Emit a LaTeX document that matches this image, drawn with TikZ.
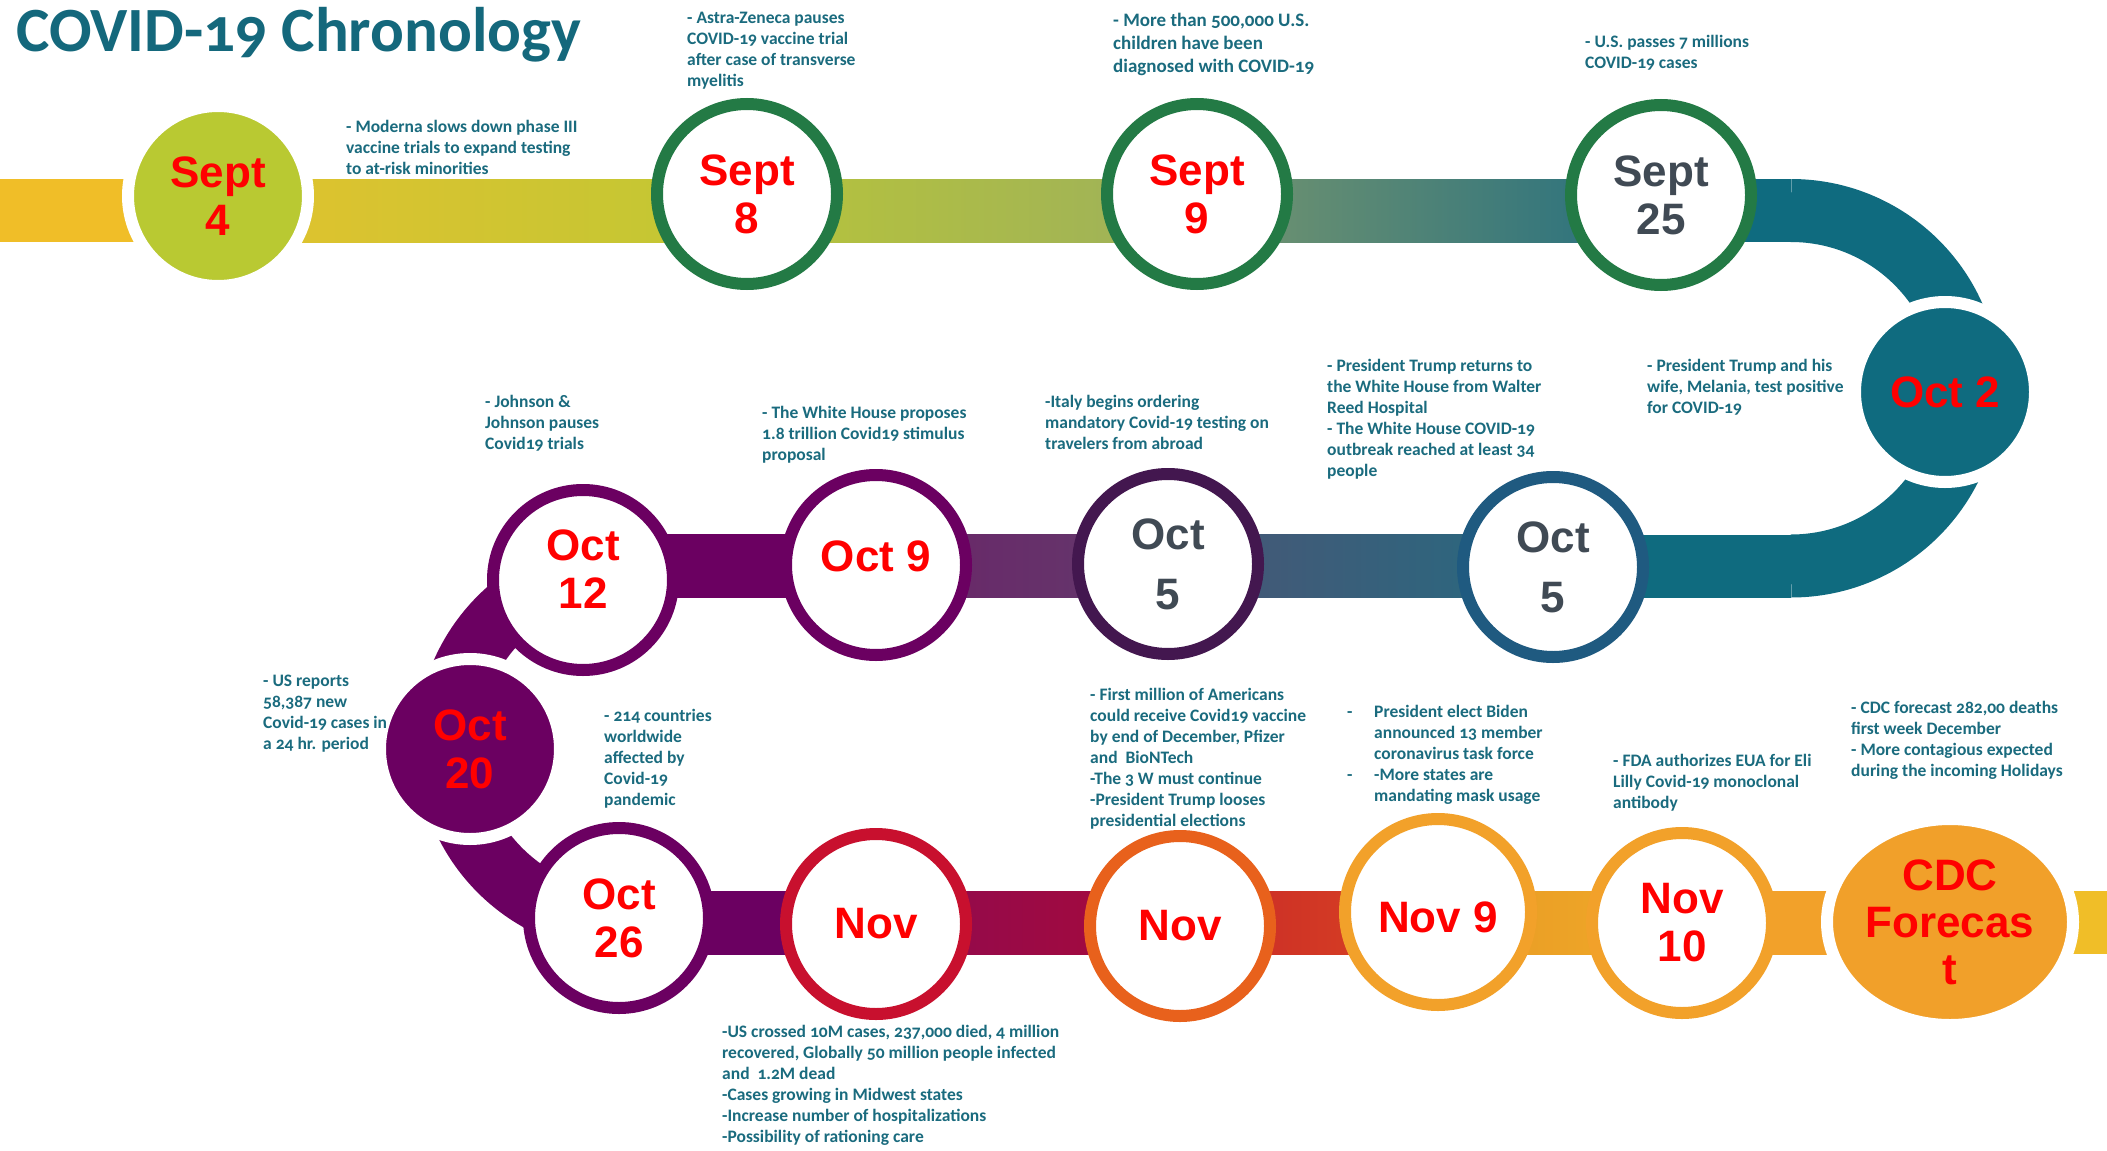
\documentclass[tikz,border=0pt]{standalone}
\usepackage{fontspec}
\setmainfont{Carlito}[Numbers=OldStyle]
\setsansfont{Liberation Sans}
\usetikzlibrary{shapes.geometric}

\definecolor{txt}{HTML}{1A6B7E}
\definecolor{ttl}{HTML}{14687C}
\definecolor{datered}{HTML}{FF0000}
\definecolor{dategray}{HTML}{404A54}
\definecolor{sepfill}{HTML}{B9C932}
\definecolor{ringgreen}{HTML}{237A45}
\definecolor{tealband}{HTML}{0F6B7F}
\definecolor{ringblue}{HTML}{1F5A80}
\definecolor{darkplum}{HTML}{43174F}
\definecolor{plum}{HTML}{6B0061}
\definecolor{crimson}{HTML}{C8102E}
\definecolor{rust}{HTML}{E8611C}
\definecolor{amber}{HTML}{F2A12A}
\definecolor{cdcfill}{HTML}{F1A02A}
\definecolor{yel}{HTML}{F0BE28}
\definecolor{c1}{HTML}{E2C22E}
\definecolor{c2}{HTML}{C0C734}
\definecolor{c3}{HTML}{B8C43A}
\definecolor{c4}{HTML}{9CB05C}
\definecolor{c5}{HTML}{76966E}
\definecolor{c6}{HTML}{246E80}
\definecolor{c7}{HTML}{4A5575}
\definecolor{c8}{HTML}{266A80}
\definecolor{c9}{HTML}{6A2468}
\definecolor{c10}{HTML}{633A6C}
\definecolor{c11}{HTML}{8E0A50}
\definecolor{c12}{HTML}{A80A3A}
\definecolor{c13}{HTML}{C82828}
\definecolor{c14}{HTML}{DA4522}
\definecolor{c15}{HTML}{E89A25}
\definecolor{c16}{HTML}{F0AA28}

\pgfdeclarelayer{bg}
\pgfsetlayers{bg,main}

\tikzset{
  dateface/.style={inner sep=0pt, align=center, text=datered,
    font=\sffamily\bfseries\fontsize{44}{48}\selectfont},
  ringnode/.style={dateface, circle, minimum size=180pt, line width=12pt, draw=#1, fill=white},
  dotnode/.style={dateface, circle, minimum size=180pt, line width=12pt, draw=white, fill=#1},
  notetext/.style={anchor=north west, inner sep=0pt, align=left, text=txt,
    font=\bfseries\fontsize{17.5}{21}\selectfont},
  bandline/.style={line width=63pt, #1}
}

\begin{document}
\begin{tikzpicture}[x=1pt, y=-1pt]
  \useasboundingbox (0,0) rectangle (2107,1151);

  \node[anchor=base west, inner sep=0pt, text=ttl, font=\bfseries\fontsize{63}{63}\selectfont]
    (title) at (16,51) {COVID-19 Chronology};

  % dates along the road
  \node[dotnode=sepfill] (sep4) at (218,196) {Sept\\4};
  \node[ringnode=ringgreen] (sep8) at (747,194) {Sept\\8};
  \node[ringnode=ringgreen] (sep9) at (1197,194) {Sept\\9};
  \node[ringnode=ringgreen, text=dategray] (sep25) at (1661,195) {Sept\\25};
  \node[dotnode=tealband] (oct2) at (1945,392) {Oct 2};
  \node[ringnode=ringblue, text=dategray] (oct5b) at (1553,567) {Oct\\[12pt]5};
  \node[ringnode=darkplum, text=dategray] (oct5a) at (1168,564) {Oct\\[12pt]5};
  \node[ringnode=plum, text depth=18pt] (oct9) at (876,565) {Oct 9};
  \node[ringnode=plum, text depth=22pt] (oct12) at (583,580) {Oct\\12};
  \node[dotnode=plum] (oct20) at (470,749) {Oct\\20};
  \node[ringnode=plum] (oct26) at (619,918) {Oct\\26};
  \node[ringnode=crimson] (nov1) at (876,924) {Nov};
  \node[ringnode=rust] (nov2) at (1180,926) {Nov};
  \node[ringnode=amber, minimum size=186pt, text height=42pt] (nov9) at (1438,912) {Nov 9};
  \node[ringnode=amber] (nov10) at (1682,923) {Nov\\10};
  \node[dateface, ellipse, minimum width=246pt, minimum height=206pt, line width=12pt,
    draw=white, fill=cdcfill, font=\sffamily\bfseries\fontsize{44}{47}\selectfont]
    (cdc) at (1950,922) {CDC\\Forecas\\t};

  % notes
  \node[notetext] (sep4txt) at (346,120) {- Moderna slows down phase III\\vaccine trials to expand testing\\to at-risk minorities};
  \node[notetext] (sep8txt) at (687,12) {- Astra-Zeneca pauses\\COVID-19 vaccine trial\\after case of transverse\\myelitis};
  \node[notetext, font=\bfseries\fontsize{19}{23}\selectfont] (sep9txt) at (1113,13) {- More than 500,000 U.S.\\children have been\\diagnosed with COVID-19};
  \node[notetext] (sep25txt) at (1585,35) {- U.S. passes 7 millions\\COVID-19 cases};
  \node[notetext] (oct2txt) at (1647,359) {- President Trump and his\\wife, Melania, test positive\\for COVID-19};
  \node[notetext] (oct5btxt) at (1327,359) {- President Trump returns to\\the White House from Walter\\Reed Hospital\\- The White House COVID-19\\outbreak reached at least 34\\people};
  \node[notetext] (oct5atxt) at (1045,395) {-Italy begins ordering\\mandatory Covid-19 testing on\\travelers from abroad};
  \node[notetext] (oct9txt) at (762,406) {- The White House proposes\\1.8 trillion Covid19 stimulus\\proposal};
  \node[notetext] (oct12txt) at (485,395) {- Johnson \&\\Johnson pauses\\Covid19 trials};
  \node[notetext] (oct20txt) at (263,675) {- US reports\\58,387 new\\Covid-19 cases in\\a 24 hr. period};
  \node[notetext] (oct26txt) at (604,709) {- 214 countries\\worldwide\\affected by\\Covid-19\\pandemic};
  \node[notetext] (nov1txt) at (722,1025) {-US crossed 10M cases, 237,000 died, 4 million\\recovered, Globally 50 million people infected\\and~ 1.2M dead\\-Cases growing in Midwest states\\-Increase number of hospitalizations\\-Possibility of rationing care};
  \node[notetext] (nov2txt) at (1090,688) {- First million of Americans\\could receive Covid19 vaccine\\by end of December, Pfizer\\and~ BioNTech\\-The 3 W must continue\\-President Trump looses\\presidential elections};
  \node[notetext] (nov9txt) at (1347,705) {\makebox[27pt][l]{-}President elect Biden\\\hspace*{27pt}announced 13 member\\\hspace*{27pt}coronavirus task force\\\makebox[27pt][l]{-}-More states are\\\hspace*{27pt}mandating mask usage};
  \node[notetext] (nov10txt) at (1613,754) {- FDA authorizes EUA for Eli\\Lilly Covid-19 monoclonal\\antibody};
  \node[notetext] (cdctxt) at (1851,701) {- CDC forecast 282,00 deaths\\first week December\\- More contagious expected\\during the incoming Holidays};

  % the road
  \coordinate (a1) at (0,179);
  \coordinate (b1) at (0,242);
  \coordinate (a2) at (0,534.5);
  \coordinate (b2) at (0,597.5);
  \coordinate (a3) at (0,891);
  \coordinate (b3) at (0,954);
  \coordinate (e3) at (2107,954);
  \coordinate (r1) at (1791,210.5);
  \coordinate (r2) at (1791,566);
  \coordinate (l2) at (626,566);
  \coordinate (l3) at (626,922.5);

  \begin{pgfonlayer}{bg}
    \fill[white] (0,0) rectangle (2107,1151);
    \fill[yel] (a1) rectangle (sep4.center |- b1);
    \foreach \p/\q/\r/\ca/\cb in {sep4/sep8/1/c1/c2, sep8/sep9/1/c3/c4, sep9/sep25/1/c5/c6,
        oct12/oct9/2/plum/plum, oct9/oct5a/2/c9/c10, oct5a/oct5b/2/c7/c8,
        oct26/nov1/3/plum/plum, nov1/nov2/3/c11/c12, nov2/nov9/3/c13/c14,
        nov9/nov10/3/c15/c16, nov10/cdc/3/amber/amber}
      \shade[left color=\ca, right color=\cb] (\p.center |- a\r) rectangle (\q.center |- b\r);
    \fill[yel] (cdc.center |- a3) rectangle (e3);
    \fill[tealband] (sep25.center |- a1) rectangle (r1 |- b1);
    \draw[bandline=tealband] (r1) arc[start angle=90, end angle=-90, radius=177.75pt];
    \fill[tealband] (oct5b.center |- a2) rectangle (r2 |- b2);
    \fill[plum] (l2 |- a2) rectangle (oct12.center |- b2);
    \draw[bandline=plum] (l2) arc[start angle=90, end angle=270, radius=178.25pt];
    \fill[plum] (l3 |- a3) rectangle (oct26.center |- b3);
  \end{pgfonlayer}
\end{tikzpicture}
\end{document}
